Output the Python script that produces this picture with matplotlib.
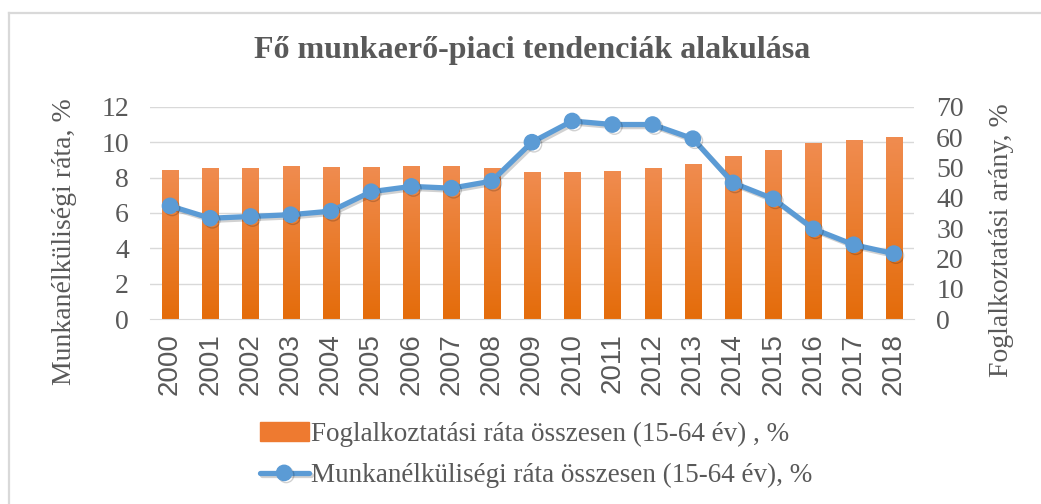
import matplotlib.pyplot as plt
import matplotlib.patheffects as pe
from matplotlib.patches import Rectangle
from matplotlib.lines import Line2D
from matplotlib.colors import LinearSegmentedColormap
import numpy as np

# data
years = [str(y) for y in range(2000, 2019)]
# unemployment rate, left axis (%)
unemployment = [6.4, 5.7, 5.8, 5.9, 6.1, 7.2, 7.5, 7.4, 7.8, 10.0,
                11.2, 11.0, 11.0, 10.2, 7.7, 6.8, 5.1, 4.2, 3.7]
# employment bars, right axis (%)
employment = [49.3, 49.7, 49.7, 50.6, 50.2, 50.2, 50.6, 50.6, 49.7, 48.5,
              48.5, 49.0, 49.8, 51.0, 53.9, 55.7, 58.0, 59.1, 60.0]

title = "Fő munkaerő-piaci tendenciák alakulása"
bar_label = "Foglalkoztatási ráta összesen (15-64 év) , %"
line_label = "Munkanélküliségi ráta összesen (15-64 év), %"
left_label = "Munkanélküliségi ráta, %"
right_label = "Foglalkoztatási arány, %"

serif = ["Liberation Serif", "DejaVu Serif"]
sans = ["Liberation Sans", "DejaVu Sans"]
grey = "#595959"
orange = "#ED7D31"
blue = "#5B9BD5"

fig = plt.figure(figsize=(10.41, 5.04), dpi=100)
# chart frame (only left and top edges visible in the reference)
frame = "#D9D9D9"
fig.lines.append(Line2D([0.0082, 0.0082], [0, 0.974], transform=fig.transFigure,
                        color=frame, linewidth=1.6))
fig.lines.append(Line2D([0.0082, 1], [0.974, 0.974], transform=fig.transFigure,
                        color=frame, linewidth=1.6))

ax = fig.add_axes([0.144, 0.367, 0.734, 0.421])
ax2 = ax.twinx()

x = np.arange(len(years))

# bars on the right axis, with a vertical gradient
grad = np.linspace(0, 1, 256).reshape(-1, 1)
cmap = LinearSegmentedColormap.from_list("og", ["#E46C0A", "#F08C50"])
bars = ax2.bar(x, employment, width=0.4, color=orange, zorder=1)
for b in bars:
    x0 = b.get_x()
    im = ax2.imshow(grad, extent=[x0, x0 + b.get_width(), 0, b.get_height()],
                    origin="lower", aspect="auto", cmap=cmap, zorder=1)
    im.set_clip_path(b)
ax2.set_ylim(0, 70)
ax2.set_yticks(range(0, 71, 10))

# line on the left axis, drawn above the bars
ax.set_zorder(ax2.get_zorder() + 1)
ax.patch.set_visible(False)
ax.plot(x, unemployment, color=blue, linewidth=3.8, marker="o", markersize=11,
        solid_capstyle="round",
        path_effects=[pe.SimpleLineShadow(offset=(1.5, -1.5), alpha=0.18), pe.Normal()],
        zorder=3)
ax.set_ylim(0, 12)
ax.set_yticks(range(0, 13, 2))
ax.set_xlim(-0.5, len(years) - 0.5)
ax.set_xticks(x)
ax.set_xticklabels(years, rotation=90, fontfamily=sans, fontsize=19, color=grey)

# gridlines behind everything
for v in range(2, 13, 2):
    ax2.axhline(v * 70 / 12, color="#D9D9D9", linewidth=1, zorder=0)

for a in (ax, ax2):
    for s in a.spines.values():
        s.set_visible(False)
    a.tick_params(length=0, labelsize=20, labelcolor=grey)
    for t in a.get_yticklabels():
        t.set_fontfamily(serif)
ax2.spines["bottom"].set_visible(True)
ax2.spines["bottom"].set_color("#D9D9D9")
ax.tick_params(axis="x", pad=10)
ax.tick_params(axis="y", pad=15)
ax2.tick_params(axis="y", pad=16)

fig.text(0.0624, 0.52, left_label, rotation=90, ha="center", va="center",
         fontfamily=serif, fontsize=20, color=grey)
fig.text(0.9616, 0.524, right_label, rotation=90, ha="center", va="center",
         fontfamily=serif, fontsize=20, color=grey)

fig.text(0.511, 0.899, title, ha="center", va="center", fontfamily=serif,
         fontsize=23, fontweight="bold", color=grey)

handles = [Rectangle((0, 0), 1, 1, color="#EE7A30"), ax.get_lines()[0]]
fig.legend(handles, [bar_label, line_label], loc="center",
           bbox_to_anchor=(0.515, 0.097), frameon=False, ncol=1,
           prop={"family": serif, "size": 19.5}, handlelength=1.8,
           handletextpad=0.1, labelspacing=0.6, labelcolor=grey)

fig.savefig("out.png", dpi=100)
